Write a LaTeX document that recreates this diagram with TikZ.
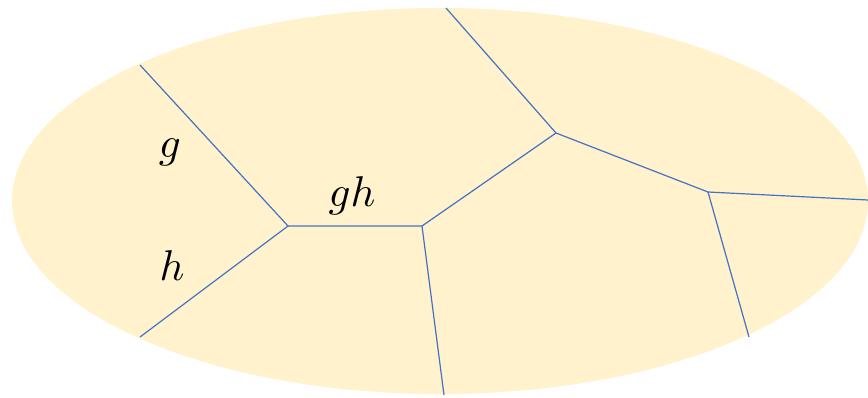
\documentclass[tikz,border=0pt]{standalone}
\usepackage{fontspec}
\definecolor{cellfill}{HTML}{FFF2CC}
\definecolor{edgeblue}{HTML}{4472C4}
\begin{document}
\begin{tikzpicture}[x=1pt,y=-1pt,
  wall/.style={draw=edgeblue,line width=1.2pt},
  lab/.style={inner sep=0pt,scale=4.3}]
\useasboundingbox (0,0) rectangle (868,397);
\begin{scope}
\clip (0,0) rectangle (868,397);
\fill[cellfill] (440,201) ellipse [x radius=428, y radius=193];
\end{scope}
\coordinate (a) at (140,65);
\coordinate (b) at (140,337);
\coordinate (v1) at (288,226);
\coordinate (v2) at (422,226);
\coordinate (v3) at (556,133);
\coordinate (v4) at (708,192);
\coordinate (t) at (446,8);
\coordinate (d) at (444,395);
\coordinate (r) at (868,200);
\coordinate (e) at (749,337);
\draw[wall] (a) -- (v1) -- (b);
\draw[wall] (v1) -- (v2) -- (v3) -- (v4) -- (r);
\draw[wall] (v2) -- (d);
\draw[wall] (v3) -- (t);
\draw[wall] (v4) -- (e);
\node[lab] (g) at (170,152) {$g$};
\node[lab] (h) at (172,266) {$h$};
\node[lab] (gh) at (352,196) {$gh$};
\end{tikzpicture}
\end{document}
